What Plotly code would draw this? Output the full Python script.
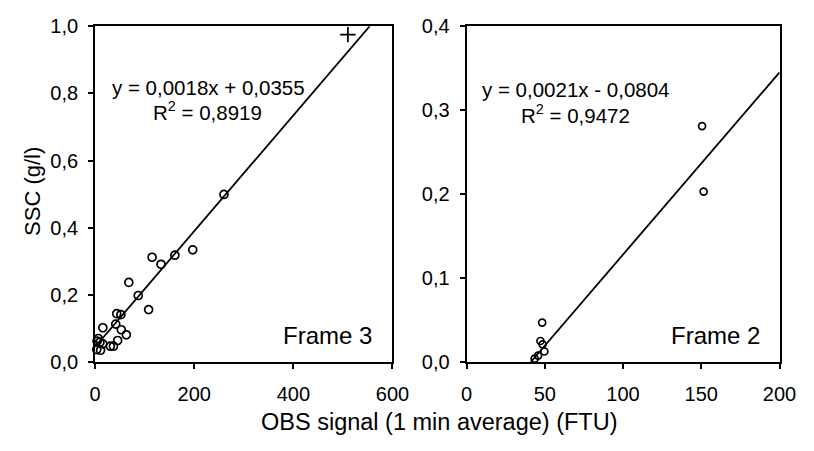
import plotly.graph_objects as go

# ---- data ----
frame3_x = [3.3, 11, 4, 6.4, 9.8, 15.6, 15.6, 30.7, 37, 41.6, 43.6, 45.5, 52, 52.8, 63, 68, 87, 108, 115, 133, 161, 197, 260]
frame3_y = [0.037, 0.035, 0.062, 0.070, 0.059, 0.054, 0.102, 0.047, 0.047, 0.113, 0.144, 0.064, 0.141, 0.096, 0.081, 0.237, 0.198, 0.156, 0.312, 0.291, 0.318, 0.334, 0.499]
frame3_out_x = [510]
frame3_out_y = [0.975]
frame3_fit_x = [0, 554]
frame3_fit_y = [0.045, 1.0]

frame2_x = [43.5, 45.7, 47.2, 48.3, 48.6, 49.7, 150.5, 151.5]
frame2_y = [0.004, 0.0076, 0.025, 0.047, 0.021, 0.0125, 0.281, 0.203]
frame2_fit_x = [41, 200]
frame2_fit_y = [0.0, 0.345]

left_xticks = [0, 200, 400, 600]
left_yticks = [0.0, 0.2, 0.4, 0.6, 0.8, 1.0]
left_yticktext = ["0,0", "0,2", "0,4", "0,6", "0,8", "1,0"]
right_xticks = [0, 50, 100, 150, 200]
right_yticks = [0.0, 0.1, 0.2, 0.3, 0.4]
right_yticktext = ["0,0", "0,1", "0,2", "0,3", "0,4"]

eq3 = ["y = 0,0018x + 0,0355", "R<sup>2</sup> = 0,8919"]
eq2 = ["y = 0,0021x - 0,0804", "R<sup>2</sup> = 0,9472"]
frame_labels = ["Frame 3", "Frame 2"]
x_title = "OBS signal (1 min average) (FTU)"
y_title = "SSC (g/l)"

W, H = 814, 451
FONT = "Arial, Liberation Sans, sans-serif"


def px(x):
    return x / W


def py(y):
    return 1 - y / H


fig = go.Figure()
fig.add_trace(go.Scatter(x=frame3_fit_x, y=frame3_fit_y, mode="lines",
                         line=dict(color="black", width=1.8), xaxis="x", yaxis="y",
                         showlegend=False))
fig.add_trace(go.Scatter(x=frame3_x, y=frame3_y, mode="markers",
                         marker=dict(symbol="circle-open", size=8, color="black",
                                     line=dict(width=1.7, color="black")),
                         cliponaxis=False, xaxis="x", yaxis="y", showlegend=False))
fig.add_trace(go.Scatter(x=frame3_out_x, y=frame3_out_y, mode="markers",
                         marker=dict(symbol="cross-thin-open", size=11, color="black",
                                     line=dict(width=1.8, color="black")),
                         cliponaxis=False, xaxis="x", yaxis="y", showlegend=False))
fig.add_trace(go.Scatter(x=frame2_fit_x, y=frame2_fit_y, mode="lines",
                         line=dict(color="black", width=1.8), xaxis="x2", yaxis="y2",
                         showlegend=False))
fig.add_trace(go.Scatter(x=frame2_x, y=frame2_y, mode="markers",
                         marker=dict(symbol="circle-open", size=7, color="black",
                                     line=dict(width=1.7, color="black")),
                         cliponaxis=False, xaxis="x2", yaxis="y2", showlegend=False))

axis_common = dict(showline=True, linecolor="black", linewidth=2, mirror=True,
                   ticks="outside", ticklen=5, tickwidth=2, tickcolor="black",
                   showgrid=False, zeroline=False,
                   tickfont=dict(family=FONT, size=20, color="black"))

fig.update_layout(
    width=W, height=H, autosize=False,
    margin=dict(l=0, r=0, t=0, b=0),
    paper_bgcolor="white", plot_bgcolor="white",
    xaxis=dict(domain=[px(91.7), px(397.7)], range=[0, 600], tickvals=left_xticks,
               anchor="y", ticklabelstandoff=8, **axis_common),
    yaxis=dict(domain=[py(369), py(16)], range=[0, 1.0], tickvals=left_yticks,
               ticktext=left_yticktext, anchor="x", ticklabelstandoff=6, **axis_common),
    xaxis2=dict(domain=[px(474), px(796)], range=[0, 200], tickvals=right_xticks,
                anchor="y2", ticklabelstandoff=8, **axis_common),
    yaxis2=dict(domain=[py(369), py(16)], range=[0, 0.4], tickvals=right_yticks,
                ticktext=right_yticktext, anchor="x2", ticklabelstandoff=6, **axis_common),
)

ann = []
def text(x, y, s, size, xanchor="center"):
    ann.append(dict(x=px(x), y=py(y), xref="paper", yref="paper", text=s,
                    showarrow=False, xanchor=xanchor, yanchor="middle",
                    font=dict(family=FONT, size=size, color="black")))

text(208, 80, eq3[0], 20.5)
text(207, 105, eq3[1], 20.5)
text(586, 83, eq2[0], 20.5)
text(586, 108, eq2[1], 20.5)
text(379, 341.5, frame_labels[0], 24)
ann[-1]["xanchor"] = "right"
text(778, 341.5, frame_labels[1], 24)
ann[-1]["xanchor"] = "right"
text(446, 432, x_title, 23.5)
ann.append(dict(x=px(27), y=py(190), xref="paper", yref="paper", text=y_title,
                showarrow=False, textangle=-90, xanchor="center", yanchor="middle",
                font=dict(family=FONT, size=22, color="black")))
fig.update_layout(annotations=ann)

fig.write_html("out.html")
